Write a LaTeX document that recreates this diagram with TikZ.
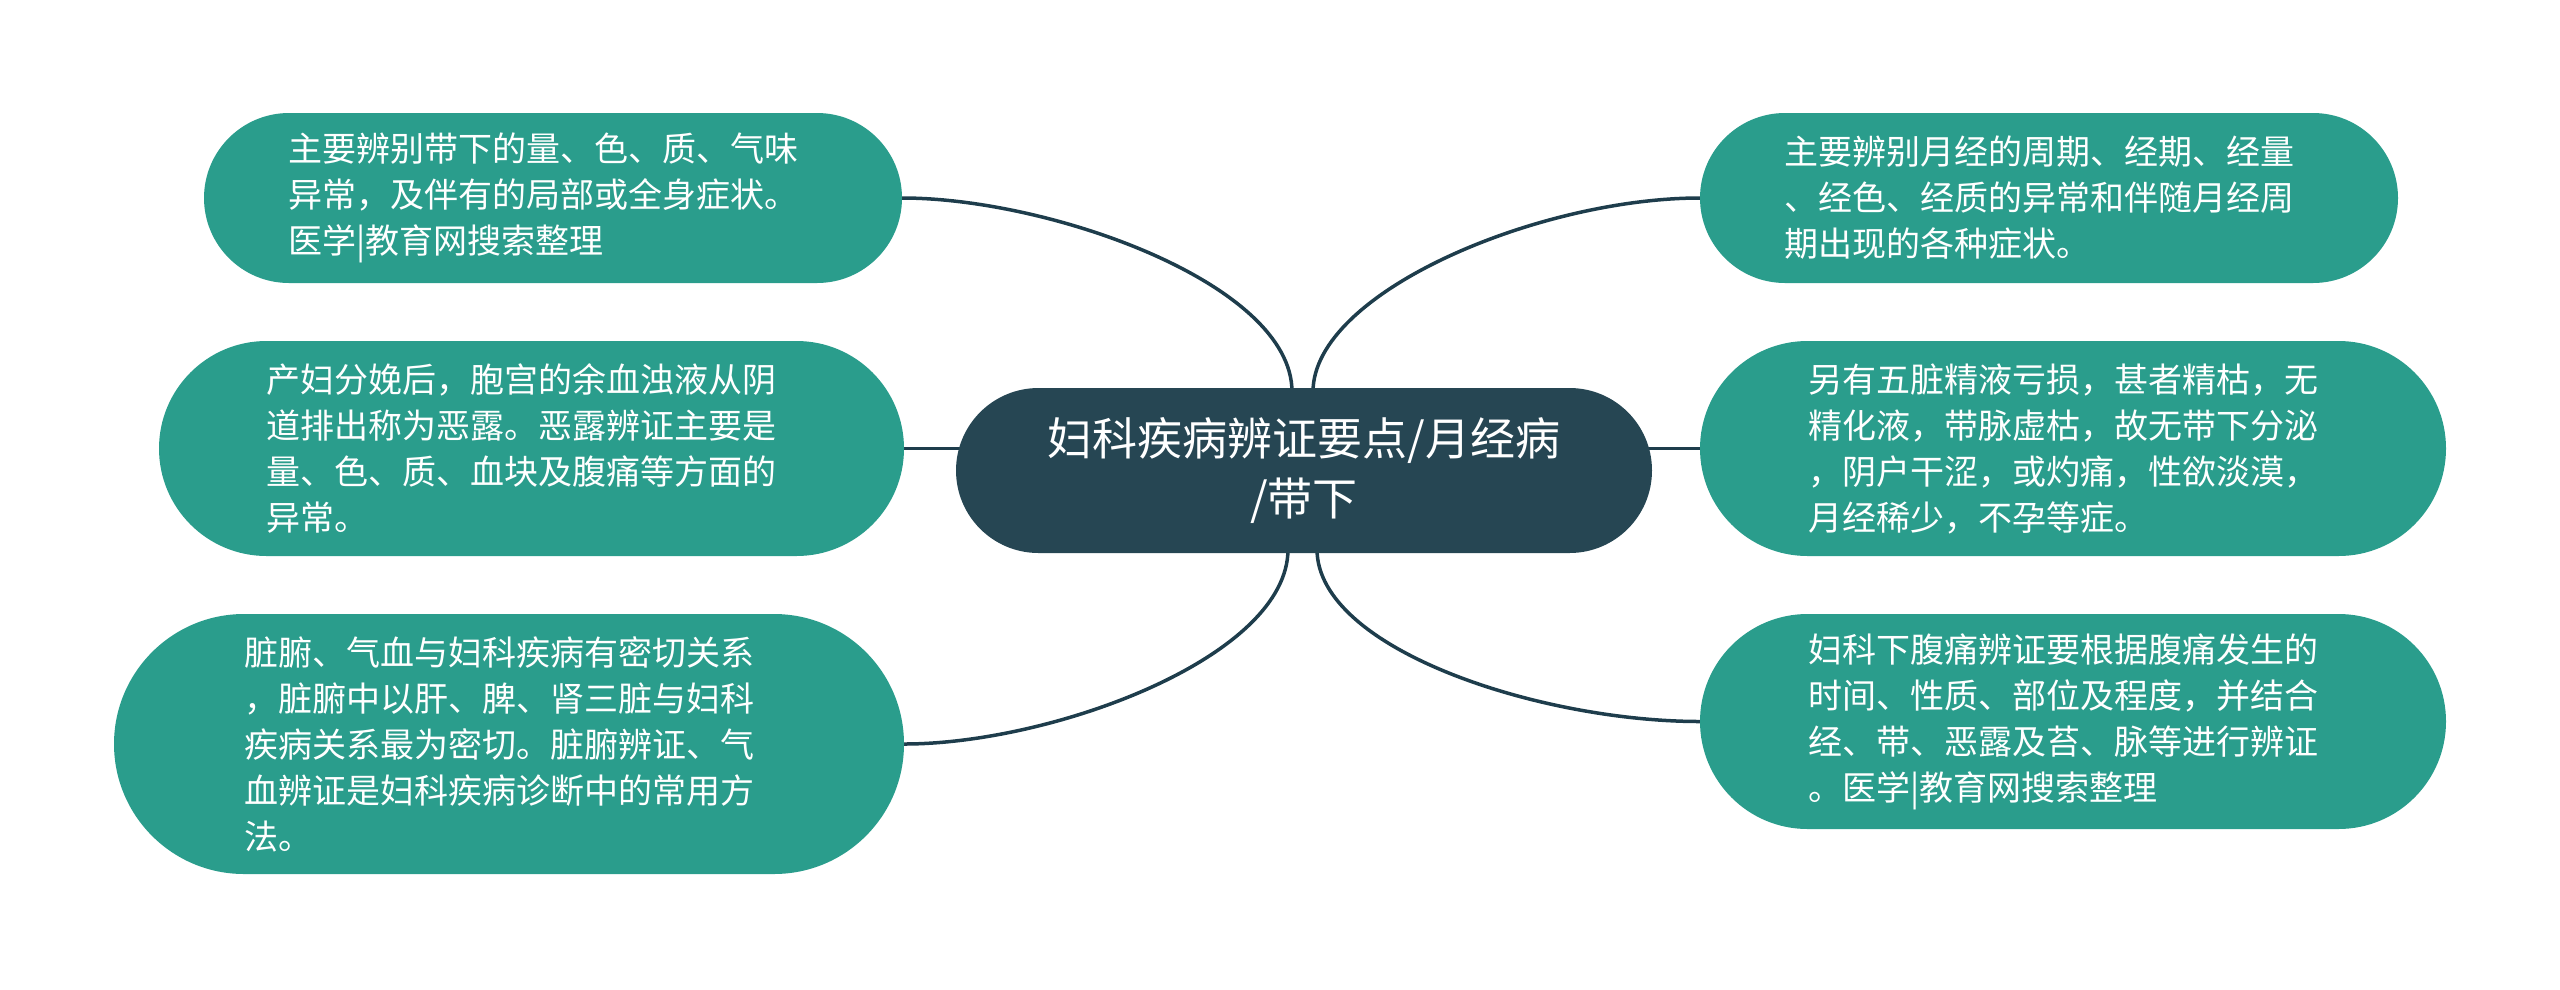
\documentclass[tikz,border=0pt]{standalone}
\usepackage{fontspec}
\setmainfont{Noto Sans CJK SC}
\usetikzlibrary{shapes.misc,backgrounds}
\definecolor{teal}{HTML}{2A9D8C}
\definecolor{hub}{HTML}{264653}
\definecolor{wire}{HTML}{1E3D4C}
\tikzset{
  leaf/.style={rounded rectangle, fill=teal, text=white, inner sep=0pt,
    text width=530pt, align=left, font=\fontsize{34}{46}\selectfont},
  hubnode/.style={rounded rectangle, fill=hub, text=white, inner sep=0pt,
    align=center, font=\fontsize{45}{60}\selectfont},
  wirestyle/.style={draw=wire, line width=3.5pt}
}
\begin{document}
\begin{tikzpicture}[x=1pt,y=-1pt]
\useasboundingbox (0,0) rectangle (2560,989);
\node[hubnode, minimum width=696pt, minimum height=165pt] (c) at (1304,470.5)
  {妇科疾病辨证要点/月经病\\/带下};
\node[leaf, minimum width=698pt, minimum height=170pt] (tl) at (553,198)
  {主要辨别带下的量、色、质、气味\\异常，及伴有的局部或全身症状。\\医学|教育网搜索整理};
\node[leaf, minimum width=745pt, minimum height=215pt] (ml) at (531.5,448.5)
  {产妇分娩后，胞宫的余血浊液从阴\\道排出称为恶露。恶露辨证主要是\\量、色、质、血块及腹痛等方面的\\异常。};
\node[leaf, minimum width=790pt, minimum height=260pt] (bl) at (509,744)
  {脏腑、气血与妇科疾病有密切关系\\，脏腑中以肝、脾、肾三脏与妇科\\疾病关系最为密切。脏腑辨证、气\\血辨证是妇科疾病诊断中的常用方\\法。};
\node[leaf, minimum width=698pt, minimum height=170pt] (tr) at (2049,198)
  {主要辨别月经的周期、经期、经量\\、经色、经质的异常和伴随月经周\\期出现的各种症状。};
\node[leaf, minimum width=746pt, minimum height=215pt] (mr) at (2073,448.5)
  {另有五脏精液亏损，甚者精枯，无\\精化液，带脉虚枯，故无带下分泌\\，阴户干涩，或灼痛，性欲淡漠，\\月经稀少，不孕等症。};
\node[leaf, minimum width=746pt, minimum height=215pt] (br) at (2073,721.5)
  {妇科下腹痛辨证要根据腹痛发生的\\时间、性质、部位及程度，并结合\\经、带、恶露及苔、脉等进行辨证\\。医学|教育网搜索整理};
\begin{scope}[on background layer]
\draw[wirestyle] (tl.east) .. controls +(148,0) and +(0,-108) .. ([xshift=-12pt,yshift=-4pt]c.north);
\draw[wirestyle] (tr.west) .. controls +(-160,0) and +(0,-100) .. ([xshift=9pt,yshift=-4pt]c.north);
\draw[wirestyle] (bl.east) .. controls +(148,0) and +(0,108) .. ([xshift=-16pt,yshift=4pt]c.south);
\draw[wirestyle] (br.west) .. controls +(-160,0) and +(0,100) .. ([xshift=13pt,yshift=4pt]c.south);
\draw[wirestyle] (ml.east) -- (ml.east -| c.center);
\draw[wirestyle] (mr.west) -- (mr.west -| c.center);
\end{scope}
\end{tikzpicture}
\end{document}
